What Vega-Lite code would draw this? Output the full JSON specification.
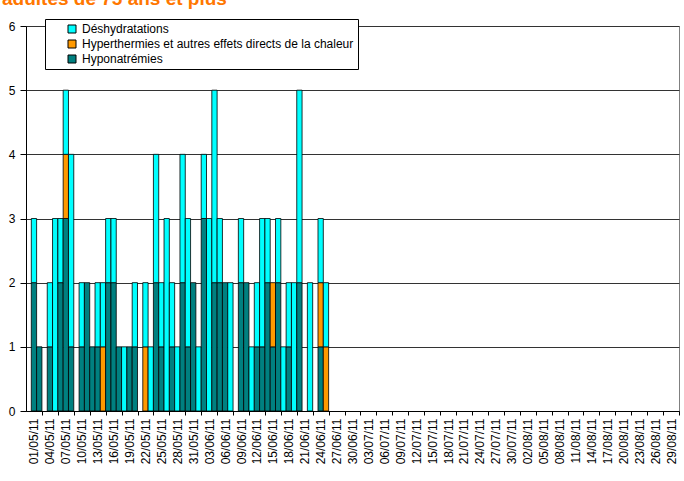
{
  "$schema": "https://vega.github.io/schema/vega-lite/v6.json",
  "width": 653,
  "height": 385,
  "autosize": "none",
  "padding": {"left": 26, "top": 26, "right": 5, "bottom": 70},
  "background": "white",
  "title": {
    "text": "adultes de 75 ans et plus",
    "anchor": "start",
    "frame": "group",
    "color": "#FF7700",
    "font": "Liberation Sans",
    "fontSize": 19,
    "fontWeight": "bold",
    "baseline": "alphabetic",
    "dx": -24,
    "dy": 18,
    "offset": 13
  },
  "config": {
    "view": {"stroke": "#808080", "strokeWidth": 1},
    "font": "Liberation Sans"
  },
  "data": {
    "values": [
      {"d": "01/05/11", "c": "Hyponatrémies", "n": 2}, {"d": "01/05/11", "c": "Déshydratations", "n": 1},
      {"d": "02/05/11", "c": "Hyponatrémies", "n": 1},
      {"d": "04/05/11", "c": "Hyponatrémies", "n": 1}, {"d": "04/05/11", "c": "Déshydratations", "n": 1},
      {"d": "05/05/11", "c": "Déshydratations", "n": 3},
      {"d": "06/05/11", "c": "Hyponatrémies", "n": 2}, {"d": "06/05/11", "c": "Déshydratations", "n": 1},
      {"d": "07/05/11", "c": "Hyponatrémies", "n": 3}, {"d": "07/05/11", "c": "Hyperthermies et autres effets directs de la chaleur", "n": 1}, {"d": "07/05/11", "c": "Déshydratations", "n": 1},
      {"d": "08/05/11", "c": "Hyponatrémies", "n": 1}, {"d": "08/05/11", "c": "Déshydratations", "n": 3},
      {"d": "10/05/11", "c": "Hyponatrémies", "n": 1}, {"d": "10/05/11", "c": "Déshydratations", "n": 1},
      {"d": "11/05/11", "c": "Hyponatrémies", "n": 2},
      {"d": "12/05/11", "c": "Hyponatrémies", "n": 1},
      {"d": "13/05/11", "c": "Hyponatrémies", "n": 1}, {"d": "13/05/11", "c": "Déshydratations", "n": 1},
      {"d": "14/05/11", "c": "Hyperthermies et autres effets directs de la chaleur", "n": 1}, {"d": "14/05/11", "c": "Déshydratations", "n": 1},
      {"d": "15/05/11", "c": "Hyponatrémies", "n": 2}, {"d": "15/05/11", "c": "Déshydratations", "n": 1},
      {"d": "16/05/11", "c": "Hyponatrémies", "n": 2}, {"d": "16/05/11", "c": "Déshydratations", "n": 1},
      {"d": "17/05/11", "c": "Hyponatrémies", "n": 1},
      {"d": "18/05/11", "c": "Déshydratations", "n": 1},
      {"d": "19/05/11", "c": "Hyponatrémies", "n": 1},
      {"d": "20/05/11", "c": "Hyponatrémies", "n": 1}, {"d": "20/05/11", "c": "Déshydratations", "n": 1},
      {"d": "22/05/11", "c": "Hyperthermies et autres effets directs de la chaleur", "n": 1}, {"d": "22/05/11", "c": "Déshydratations", "n": 1},
      {"d": "23/05/11", "c": "Déshydratations", "n": 1},
      {"d": "24/05/11", "c": "Hyponatrémies", "n": 2}, {"d": "24/05/11", "c": "Déshydratations", "n": 2},
      {"d": "25/05/11", "c": "Hyponatrémies", "n": 1}, {"d": "25/05/11", "c": "Déshydratations", "n": 1},
      {"d": "26/05/11", "c": "Déshydratations", "n": 3},
      {"d": "27/05/11", "c": "Hyponatrémies", "n": 1}, {"d": "27/05/11", "c": "Déshydratations", "n": 1},
      {"d": "28/05/11", "c": "Déshydratations", "n": 1},
      {"d": "29/05/11", "c": "Hyponatrémies", "n": 2}, {"d": "29/05/11", "c": "Déshydratations", "n": 2},
      {"d": "30/05/11", "c": "Hyponatrémies", "n": 1}, {"d": "30/05/11", "c": "Déshydratations", "n": 2},
      {"d": "31/05/11", "c": "Hyponatrémies", "n": 2},
      {"d": "01/06/11", "c": "Déshydratations", "n": 1},
      {"d": "02/06/11", "c": "Hyponatrémies", "n": 3}, {"d": "02/06/11", "c": "Déshydratations", "n": 1},
      {"d": "03/06/11", "c": "Déshydratations", "n": 3},
      {"d": "04/06/11", "c": "Hyponatrémies", "n": 2}, {"d": "04/06/11", "c": "Déshydratations", "n": 3},
      {"d": "05/06/11", "c": "Hyponatrémies", "n": 2}, {"d": "05/06/11", "c": "Déshydratations", "n": 1},
      {"d": "06/06/11", "c": "Hyponatrémies", "n": 2},
      {"d": "07/06/11", "c": "Déshydratations", "n": 2},
      {"d": "09/06/11", "c": "Hyponatrémies", "n": 2}, {"d": "09/06/11", "c": "Déshydratations", "n": 1},
      {"d": "10/06/11", "c": "Hyponatrémies", "n": 2},
      {"d": "11/06/11", "c": "Déshydratations", "n": 1},
      {"d": "12/06/11", "c": "Hyponatrémies", "n": 1}, {"d": "12/06/11", "c": "Déshydratations", "n": 1},
      {"d": "13/06/11", "c": "Hyponatrémies", "n": 1}, {"d": "13/06/11", "c": "Déshydratations", "n": 2},
      {"d": "14/06/11", "c": "Hyponatrémies", "n": 2}, {"d": "14/06/11", "c": "Déshydratations", "n": 1},
      {"d": "15/06/11", "c": "Hyponatrémies", "n": 1}, {"d": "15/06/11", "c": "Hyperthermies et autres effets directs de la chaleur", "n": 1},
      {"d": "16/06/11", "c": "Hyponatrémies", "n": 2}, {"d": "16/06/11", "c": "Déshydratations", "n": 1},
      {"d": "17/06/11", "c": "Déshydratations", "n": 1},
      {"d": "18/06/11", "c": "Hyponatrémies", "n": 1}, {"d": "18/06/11", "c": "Déshydratations", "n": 1},
      {"d": "19/06/11", "c": "Déshydratations", "n": 2},
      {"d": "20/06/11", "c": "Hyponatrémies", "n": 2}, {"d": "20/06/11", "c": "Déshydratations", "n": 3},
      {"d": "22/06/11", "c": "Déshydratations", "n": 2},
      {"d": "24/06/11", "c": "Hyponatrémies", "n": 1}, {"d": "24/06/11", "c": "Hyperthermies et autres effets directs de la chaleur", "n": 1}, {"d": "24/06/11", "c": "Déshydratations", "n": 1},
      {"d": "25/06/11", "c": "Hyperthermies et autres effets directs de la chaleur", "n": 1}, {"d": "25/06/11", "c": "Déshydratations", "n": 1}
    ]
  },
  "mark": {"type": "bar", "stroke": "#000000", "strokeWidth": 0.8},
  "encoding": {
    "x": {
      "field": "d",
      "type": "nominal",
      "sort": null,
      "scale": {
        "domain": ["30/04/11",
          "01/05/11","02/05/11","03/05/11","04/05/11","05/05/11","06/05/11","07/05/11","08/05/11","09/05/11","10/05/11",
          "11/05/11","12/05/11","13/05/11","14/05/11","15/05/11","16/05/11","17/05/11","18/05/11","19/05/11","20/05/11",
          "21/05/11","22/05/11","23/05/11","24/05/11","25/05/11","26/05/11","27/05/11","28/05/11","29/05/11","30/05/11","31/05/11",
          "01/06/11","02/06/11","03/06/11","04/06/11","05/06/11","06/06/11","07/06/11","08/06/11","09/06/11","10/06/11",
          "11/06/11","12/06/11","13/06/11","14/06/11","15/06/11","16/06/11","17/06/11","18/06/11","19/06/11","20/06/11",
          "21/06/11","22/06/11","23/06/11","24/06/11","25/06/11","26/06/11","27/06/11","28/06/11","29/06/11","30/06/11",
          "01/07/11","02/07/11","03/07/11","04/07/11","05/07/11","06/07/11","07/07/11","08/07/11","09/07/11","10/07/11",
          "11/07/11","12/07/11","13/07/11","14/07/11","15/07/11","16/07/11","17/07/11","18/07/11","19/07/11","20/07/11",
          "21/07/11","22/07/11","23/07/11","24/07/11","25/07/11","26/07/11","27/07/11","28/07/11","29/07/11","30/07/11","31/07/11",
          "01/08/11","02/08/11","03/08/11","04/08/11","05/08/11","06/08/11","07/08/11","08/08/11","09/08/11","10/08/11",
          "11/08/11","12/08/11","13/08/11","14/08/11","15/08/11","16/08/11","17/08/11","18/08/11","19/08/11","20/08/11",
          "21/08/11","22/08/11","23/08/11","24/08/11","25/08/11","26/08/11","27/08/11","28/08/11","29/08/11","30/08/11"],
        "paddingInner": 0,
        "paddingOuter": 0
      },
      "axis": {
        "title": null,
        "values": ["01/05/11","04/05/11","07/05/11","10/05/11","13/05/11","16/05/11","19/05/11","22/05/11","25/05/11","28/05/11","31/05/11",
          "03/06/11","06/06/11","09/06/11","12/06/11","15/06/11","18/06/11","21/06/11","24/06/11","27/06/11","30/06/11",
          "03/07/11","06/07/11","09/07/11","12/07/11","15/07/11","18/07/11","21/07/11","24/07/11","27/07/11","30/07/11",
          "02/08/11","05/08/11","08/08/11","11/08/11","14/08/11","17/08/11","20/08/11","23/08/11","26/08/11","29/08/11"],
        "labelAngle": -90,
        "labelFont": "Liberation Sans",
        "labelFontSize": 12,
        "labelColor": "#000000",
        "labelPadding": 3,
        "tickOffset": 8,
        "labelOffset": -8,
        "tickSize": 4,
        "tickColor": "#000000",
        "domainColor": "#000000",
        "domainWidth": 1,
        "grid": false
      }
    },
    "y": {
      "field": "n",
      "type": "quantitative",
      "aggregate": "sum",
      "stack": "zero",
      "scale": {"domain": [0, 6], "nice": false},
      "axis": {
        "title": null,
        "values": [0, 1, 2, 3, 4, 5, 6],
        "labelFont": "Liberation Sans",
        "labelFontSize": 12,
        "labelColor": "#000000",
        "labelPadding": 5,
        "tickSize": 6,
        "tickColor": "#000000",
        "domainColor": "#000000",
        "grid": true,
        "gridColor": "#333333",
        "gridWidth": 1,
        "gridOpacity": 1
      }
    },
    "color": {
      "field": "c",
      "type": "nominal",
      "scale": {
        "domain": ["Déshydratations", "Hyperthermies et autres effets directs de la chaleur", "Hyponatrémies"],
        "range": ["#00FFFF", "#FF9900", "#008080"]
      },
      "legend": {
        "title": null,
        "orient": "none",
        "legendX": 19,
        "legendY": -7,
        "direction": "vertical",
        "strokeColor": "#000000",
        "fillColor": "#FFFFFF",
        "padding": 4,
        "symbolType": "square",
        "symbolSize": 64,
        "symbolStrokeColor": "#000000",
        "symbolStrokeWidth": 1,
        "symbolOffset": 17,
        "labelFont": "Liberation Sans",
        "labelFontSize": 12,
        "labelColor": "#000000",
        "labelOffset": 4,
        "rowPadding": 3,
        "labelLimit": 400
      }
    },
    "order": {"field": "c", "sort": "descending"}
  }
}
